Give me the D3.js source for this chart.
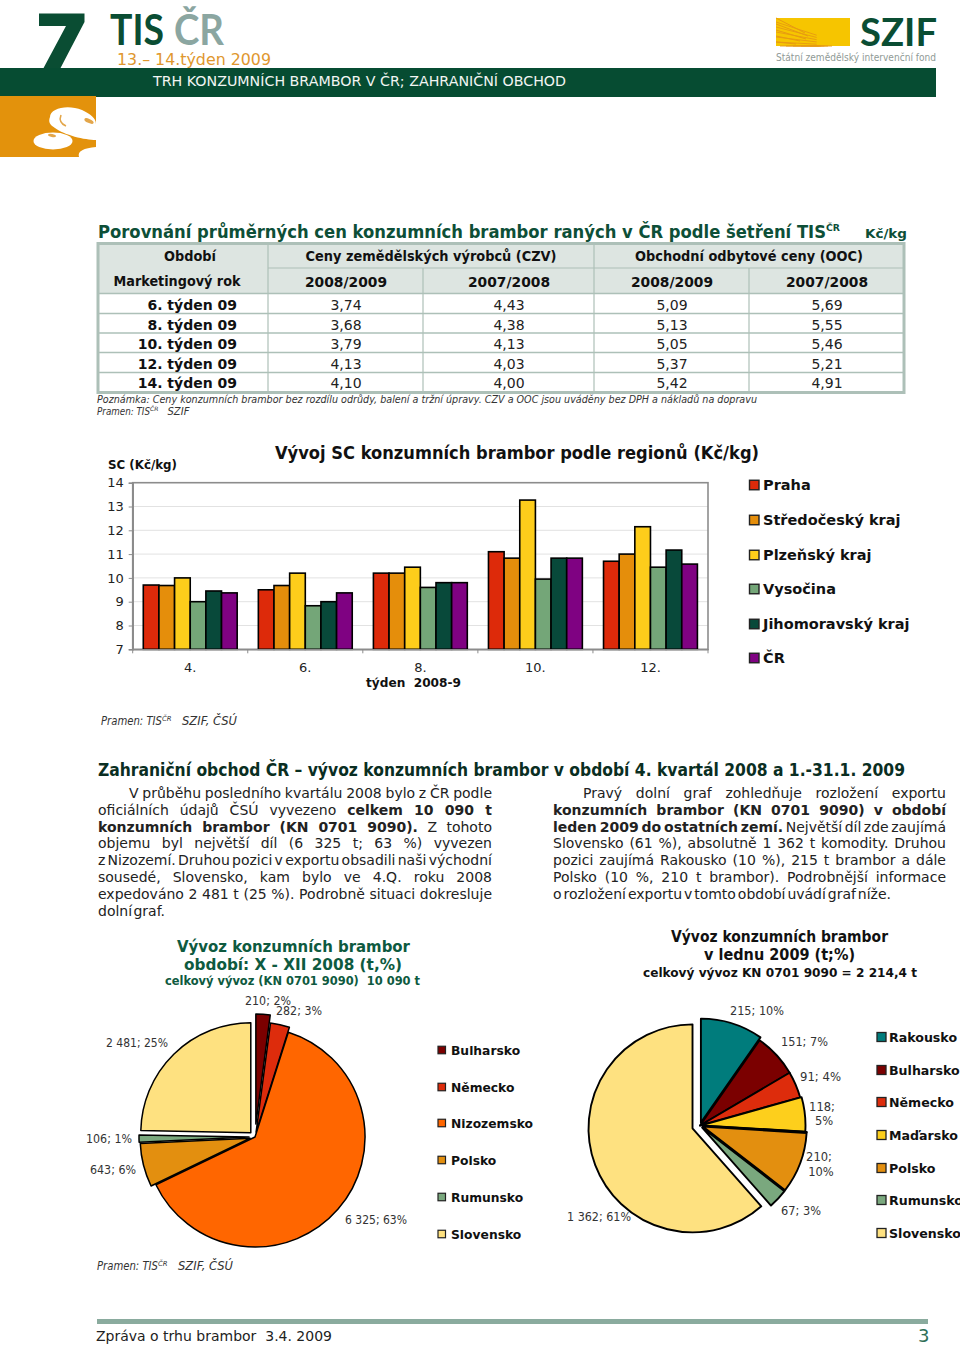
<!DOCTYPE html>
<html><head><meta charset="utf-8">
<script src="https://cdn.jsdelivr.net/npm/d3@7"></script>
<style>html,body{margin:0;padding:0;background:#fff}svg{display:block}text{font-family:"DejaVu Sans",Verdana,sans-serif}</style>
</head><body><svg id="c" width="960" height="1345"></svg>
<script>
// ---- data ----
const tablePeriods = ["6. týden 09","8. týden 09","10. týden 09","12. týden 09","14. týden 09"];
const czv0809 = ["3,74","3,68","3,79","4,13","4,10"];
const czv0708 = ["4,43","4,38","4,13","4,03","4,00"];
const ooc0809 = ["5,09","5,13","5,05","5,37","5,42"];
const ooc0708 = ["5,69","5,55","5,46","5,21","4,91"];

const weeks = ["4.","6.","8.","10.","12."];
const regions = ["Praha","Středočeský kraj","Plzeňský kraj","Vysočina","Jihomoravský kraj","ČR"];
const praha = [9.7,9.5,10.2,11.1,10.7];
const stredocesky = [9.68,9.68,10.2,10.83,11.0];
const plzensky = [10.0,10.2,10.45,13.27,12.15];
const vysocina = [9.0,8.83,9.6,9.95,10.45];
const jihomoravsky = [9.45,9.0,9.8,10.83,11.17];
const cr = [9.37,9.37,9.8,10.83,10.58];
const regionColors = ["#dd2a0a","#e58e0b","#fdcd1b","#74a678","#08493a","#7f0282"];

const pie1Names = ["Bulharsko","Německo","Nizozemsko","Polsko","Rumunsko","Slovensko"];
const pie1Values = [210,282,6325,643,106,2481];
const pie1Labels = ["210; 2%","282; 3%","6 325; 63%","643; 6%","106; 1%","2 481; 25%"];
const pie1Colors = ["#7b0000","#dd2c0c","#ff6600","#e38f0f","#7aa87e","#fee180"];

const pie2Names = ["Rakousko","Bulharsko","Německo","Maďarsko","","Polsko","Rumunsko","Slovensko"];
const pie2Values = [215,151,91,118,0.4,210,67,1362];
const pie2Colors = ["#007c7c","#7b0000","#dd2c0c","#fdcf1c","#999999","#e38f0f","#7aa87e","#fee180"];

// ---- layout ----
const pie1Explode = [13,5,0,5,6,6];
const pie2Explode = [3,0,0,1.5,3,3,3,8];
const GREEN="#0a4d33", TXT="#222";
const svg=d3.select("#c");
function T(x,y,s,o={}){
  const t=svg.append("text").attr("x",x).attr("y",y).text(s)
    .attr("font-size",o.size||12).attr("fill",o.fill||TXT)
    .attr("font-weight",o.bold?"bold":"normal")
    .attr("font-style",o.it?"italic":"normal")
    .attr("text-anchor",o.anchor||"start");
  if(o.font)t.style("font-family",o.font);
  if(o.len)t.attr("textLength",o.len).attr("lengthAdjust","spacingAndGlyphs");
  return t;
}
function R(x,y,w,h,f){return svg.append("rect").attr("x",x).attr("y",y).attr("width",w).attr("height",h).attr("fill",f);}
function L(x1,y1,x2,y2,c,w){return svg.append("line").attr("x1",x1).attr("y1",y1).attr("x2",x2).attr("y2",y2).attr("stroke",c).attr("stroke-width",w);}

// ---- header ----
svg.append("path").attr("d","M39,13.5H84.5V22L60,69H43L66,26H39Z").attr("fill",GREEN);
T(110,45,"TIS",{size:42,bold:true,fill:GREEN,font:"Lato",len:54});
T(174,45,"ČR",{size:42,bold:true,fill:"#8ba6a1",font:"Lato",len:50});
T(117,64.5,"13.– 14.týden 2009",{size:16,fill:"#e0972e",len:154});
R(0,68,936,29,"#064c32");
T(153,85.5,"TRH KONZUMNÍCH BRAMBOR V ČR; ZAHRANIČNÍ OBCHOD",{size:14.5,fill:"#f2f5f3",len:413});
R(0,96,96,61,"#e3920c");
svg.append("path").attr("d","M50,117C50,108 68,104 82,110C90,114 96,118 96,124V140C85,140 64,135 55,128C50,125 48,122 50,117Z").attr("fill","#fff");
svg.append("ellipse").attr("cx",53).attr("cy",141).attr("rx",19.5).attr("ry",8.5).attr("fill","#fff");
svg.append("path").attr("d","M79,157C77,151 84,148 96,147V157Z").attr("fill","#fff");
svg.append("path").attr("d","M61,115C59,120 61,124 66,126").attr("fill","none").attr("stroke","#e3a64a").attr("stroke-width",1.6);
svg.append("ellipse").attr("cx",89).attr("cy",121).attr("rx",5).attr("ry",2).attr("transform","rotate(25 89 121)").attr("fill","#e3a64a");
svg.append("ellipse").attr("cx",52).attr("cy",135.5).attr("rx",4).attr("ry",1.5).attr("transform","rotate(10 52 135.5)").attr("fill","#e3a64a");
// SZIF logo
R(776,18,74,28,"#f6c500");
d3.range(0,9).forEach(i=>{
  svg.append("line").attr("x1",776+i*3.2).attr("y1",46).attr("x2",776).attr("y2",18+i*0).attr("stroke","none");
});
const rayEnds=[[776,22],[776,27],[776,32],[776,37],[776,42],[780,46],[786,46],[793,46],[801,46],[810,46]];
rayEnds.forEach(e=>L(e[0],e[1],850,46,"#e79a12",0.9).attr("x2",776+ (e[0]-776)+ (850-e[0])*0.55).attr("y2",e[1]+(46-e[1])*0.55+ (e[1]<46? (18-e[1])*0:0)));
const ray2=[[776,18,805,33],[776,24,808,36],[776,30,806,39],[776,36,800,41],[776,42,796,44]];
ray2.forEach(r=>L(r[0],r[1],r[2],r[3],"#e79a12",1));
T(860,46,"SZIF",{size:39,bold:true,fill:GREEN,font:"Lato",len:77});
T(776,61,"Státní zemědělský intervenční fond",{size:10,fill:"#8f9a96",len:160});

// ---- table ----
T(98,238,"Porovnání průměrných cen konzumních brambor raných v ČR podle šetření TIS",{size:17,bold:true,fill:"#0d4f37",len:728});
T(826,231,"ČR",{size:9,bold:true,fill:"#0d4f37",len:14});
T(865,238,"Kč/kg",{size:12,bold:true,fill:"#0d4f37",len:42});
R(98,244,806,50,"#dde5e1");
const tc="#adc0b8";
[293.5,313.5,333,352.5,372.5].forEach(y=>L(98,y,904,y,tc,1.6));
L(268,268,904,268,tc,1.2);
L(268,244,268,392,tc,1.2);L(594,244,594,392,tc,1.2);
L(423,268,423,392,tc,1.2);L(749,268,749,392,tc,1.2);
svg.append("rect").attr("x",98).attr("y",243.5).attr("width",806).attr("height",149).attr("fill","none").attr("stroke",tc).attr("stroke-width",3);
const hb={size:13.5,bold:true,fill:"#111"};
T(190,261,"Období",{...hb,anchor:"middle",len:52});
T(431,261,"Ceny zemědělských výrobců (CZV)",{...hb,anchor:"middle",len:251});
T(749,261,"Obchodní odbytové ceny (OOC)",{...hb,anchor:"middle",len:228});
T(177,286,"Marketingový rok",{...hb,anchor:"middle",len:127});
[[346,"2008/2009"],[509,"2007/2008"],[672,"2008/2009"],[827,"2007/2008"]].forEach(d=>T(d[0],287,d[1],{...hb,anchor:"middle",len:82}));
const rowY=[310,330,349,369,388];
tablePeriods.forEach((p,i)=>{
  T(237,rowY[i],p,{size:14,bold:true,fill:"#111",anchor:"end"});
  T(346,rowY[i],czv0809[i],{size:14,anchor:"middle"});
  T(509,rowY[i],czv0708[i],{size:14,anchor:"middle"});
  T(672,rowY[i],ooc0809[i],{size:14,anchor:"middle"});
  T(827,rowY[i],ooc0708[i],{size:14,anchor:"middle"});
});
T(97,403,"Poznámka: Ceny konzumních brambor bez rozdílu odrůdy, balení a tržní úpravy. CZV a OOC jsou uváděny bez DPH a nákladů na dopravu",{size:10,it:true,len:660,fill:"#333"});
function pramen(x,y,after,size){
  T(x,y,"Pramen: TIS",{size,it:true,fill:"#333",len:size*5.3});
  T(x+size*5.3,y-4,"ČR",{size:size*0.6,it:true,fill:"#333"});
  T(x+size*5.3+size*1.75,y,after,{size,it:true,fill:"#333"});
}
pramen(97,415,"SZIF",10);

// ---- bar chart ----
T(275,459,"Vývoj SC konzumních brambor podle regionů (Kč/kg)",{size:17,bold:true,fill:"#111",len:484});
T(108,469,"SC (Kč/kg)",{size:11.5,bold:true,fill:"#111",len:69});
const pL=132.7,pR=708,pT=482.7,pB=649.3;
const y=d3.scaleLinear().domain([7,14]).range([pB,pT]);
const x0=d3.scaleBand().domain(weeks).range([pL,pR]);
const x1=d3.scaleBand().domain(regions).range([x0.bandwidth()*0.092,x0.bandwidth()*0.908]);
const series=[praha,stredocesky,plzensky,vysocina,jihomoravsky,cr];
const chart=svg.append("g");
chart.selectAll("line.g").data(d3.range(8,14)).join("line").attr("class","g")
  .attr("x1",pL).attr("x2",pR).attr("y1",d=>y(d)).attr("y2",d=>y(d)).attr("stroke","#e2e2e2").attr("stroke-width",1);
chart.append("rect").attr("x",pL).attr("y",pT).attr("width",pR-pL).attr("height",pB-pT).attr("fill","none").attr("stroke","#8c8c8c").attr("stroke-width",1.6);
regions.forEach((r,si)=>{
  chart.append("g").selectAll("rect").data(series[si]).join("rect")
   .attr("x",(d,i)=>x0(weeks[i])+x1(r)).attr("width",x1.bandwidth())
   .attr("y",d=>y(d)).attr("height",d=>pB-y(d))
   .attr("fill",regionColors[si]).attr("stroke","#000").attr("stroke-width",1.6);
});
const ya=chart.append("g").attr("transform",`translate(${pL},0)`).call(d3.axisLeft(y).tickValues(d3.range(7,15)).tickFormat(d3.format("d")).tickSize(4).tickPadding(5));
ya.select(".domain").attr("stroke","#8c8c8c").attr("stroke-width",1.6);
ya.selectAll("line").attr("stroke","#8c8c8c");
ya.selectAll("text").attr("font-size",13).attr("fill",TXT).style("font-family",'"DejaVu Sans"');
const xa=chart.append("g").attr("transform",`translate(0,${pB})`).call(d3.axisBottom(x0).tickSize(0).tickPadding(13));
xa.select(".domain").attr("stroke","#8c8c8c").attr("stroke-width",1.6);
xa.selectAll("text").attr("font-size",13).attr("fill",TXT).style("font-family",'"DejaVu Sans"');
chart.selectAll("line.xt").data(d3.range(6)).join("line").attr("class","xt")
  .attr("x1",i=>pL+i*x0.step()).attr("x2",i=>pL+i*x0.step()).attr("y1",pB).attr("y2",pB+4).attr("stroke","#8c8c8c");
T(366,687,"týden  2008-9",{size:13,bold:true,fill:"#111",len:95}).attr("xml:space","preserve");
function legend(names,colors,xs,ys,sz,tx,fs,sw){
  names.forEach((n,i)=>{
    svg.append("rect").attr("x",xs+0.5).attr("y",ys[i]-sz/2).attr("width",sz).attr("height",sz).attr("fill",colors[i]).attr("stroke","#222").attr("stroke-width",sw);
    T(tx,ys[i]+fs*0.37,n,{size:fs,bold:true,fill:"#111"});
  });
}
legend(regions,regionColors,749,[485,520,555,589,624,658],9.5,763,14.5,1.4);
pramen(101,725,"SZIF, ČSÚ",11.5);

// ---- text ----
T(98,776,"Zahraniční obchod ČR – vývoz konzumních brambor v období 4. kvartál 2008 a 1.-31.1. 2009",{size:17.5,bold:true,fill:"#0a2e22",len:807});
function para(x0,x1,indent,lines,ys,lastJust){
  lines.forEach((segs,i)=>{
    const sx=i==0?x0+indent:x0;
    const t=svg.append("text").attr("x",sx).attr("y",ys[i]).attr("font-size",14).attr("fill",TXT);
    segs.forEach(s=>t.append("tspan").attr("font-weight",s[1]?"bold":"normal").text(s[0]));
    const full=segs.map(s=>s[0]).join("");
    const n=(full.match(/[ \u00a0]/g)||[]).length;
    const w=t.node().getComputedTextLength();
    const target=lastJust[i]?lastJust[i]:(x1-sx);
    if(n) t.attr("word-spacing",(target-w)/n);
  });
}
const ys=[798,815,832,848,865,882,899,916];
para(98,492,31,[
 [["V průběhu posledního kvartálu 2008 bylo z ČR podle",0]],
 [["oficiálních údajů ČSÚ vyvezeno ",0],["celkem 10 090 t",1]],
 [["konzumních brambor (KN 0701 9090).",1],[" Z tohoto",0]],
 [["objemu byl největší díl (6 325 t; 63 %) vyvezen",0]],
 [["z Nizozemí. Druhou pozici v exportu obsadili naši východní",0]],
 [["sousedé, Slovensko, kam bylo ve 4.Q. roku 2008",0]],
 [["expedováno 2 481 t (25 %). Podrobně situaci dokresluje",0]],
 [["dolní graf.",0]]
],ys,{7:67});
para(553,946,30,[
 [["Pravý dolní graf zohledňuje rozložení exportu",0]],
 [["konzumních brambor (KN 0701 9090) v období",1]],
 [["leden 2009 do ostatních zemí.",1],[" Největší díl zde zaujímá",0]],
 [["Slovensko (61 %), absolutně 1 362 t komodity. Druhou",0]],
 [["pozici zaujímá Rakousko (10 %), 215 t brambor a dále",0]],
 [["Polsko (10 %, 210 t brambor). Podrobnější informace",0]],
 [["o rozložení exportu v tomto období uvádí graf níže.",0]]
],ys,{6:338});

// ---- pies ----
function pie(cx,cy,r,values,colors,expl,sw){
  const arcs=d3.pie().sort(null).value(d=>d)(values);
  const arc=d3.arc().innerRadius(0).outerRadius(r);
  const g=svg.append("g").attr("transform",`translate(${cx},${cy})`);
  g.selectAll("path").data(arcs).join("path").attr("d",arc)
   .attr("transform",(d,i)=>{const m=(d.startAngle+d.endAngle)/2;return `translate(${Math.sin(m)*expl[i]},${-Math.cos(m)*expl[i]})`;})
   .attr("fill",(d,i)=>colors[i]).attr("stroke","#000").attr("stroke-width",sw).attr("stroke-linejoin","round");
}
const G2="#0e5a40";
T(293.5,952,"Vývoz konzumních brambor",{size:15.5,bold:true,fill:G2,anchor:"middle",len:233});
T(293,970,"období: X - XII 2008 (t,%)",{size:15.5,bold:true,fill:G2,anchor:"middle",len:218});
T(292.5,985,"celkový vývoz (KN 0701 9090)  10 090 t",{size:12,bold:true,fill:G2,anchor:"middle",len:255}).attr("xml:space","preserve");
pie(255,1137,110,pie1Values,pie1Colors,pie1Explode,1.5);
const l1={size:11.5,fill:"#333"};
T(245,1005,pie1Labels[0],{...l1,len:46});
T(276,1015,pie1Labels[1],{...l1,len:46});
T(345,1224,pie1Labels[2],{...l1,len:62});
T(90,1174,pie1Labels[3],{...l1,len:46});
T(86,1143,pie1Labels[4],{...l1,len:46});
T(106,1047,pie1Labels[5],{...l1,len:62});
legend(pie1Names,pie1Colors,437.5,[1050,1087,1123,1160,1197,1234],7.5,451,12.3,1.2);
pramen(97,1270,"SZIF, ČSÚ",11.5);

T(779.5,942,"Vývoz konzumních brambor",{size:15,bold:true,fill:"#111",anchor:"middle",len:217});
T(779.5,960,"v lednu 2009 (t;%)",{size:15,bold:true,fill:"#111",anchor:"middle",len:151});
T(780,977,"celkový vývoz KN 0701 9090 = 2 214,4 t",{size:12,bold:true,fill:"#111",anchor:"middle",len:274});
pie(700,1125.5,104,pie2Values,pie2Colors,pie2Explode,1.9);
T(730,1015,"215; 10%",{...l1,len:54});
T(781,1046,"151; 7%",{...l1,len:47});
T(800,1081,"91; 4%",{...l1,len:41});
T(822,1111,"118;",{...l1,anchor:"middle"});
T(824,1125,"5%",{...l1,anchor:"middle"});
T(819,1161,"210;",{...l1,anchor:"middle"});
T(821,1176,"10%",{...l1,anchor:"middle"});
T(781,1215,"67; 3%",{...l1,len:40});
T(567,1221,"1 362; 61%",{...l1,len:64});
const lg2=pie2Names.map((n,i)=>i).filter(i=>pie2Names[i]);
legend(lg2.map(i=>pie2Names[i]),lg2.map(i=>pie2Colors[i]),876.5,[1037,1070,1102,1135,1168,1200,1233],9,889,12.6,1.3);

// ---- footer ----
R(97,1319,831,5,"#8aab9e");
T(96,1341,"Zpráva o trhu brambor  3.4. 2009",{size:14.5,fill:"#222",len:236}).attr("xml:space","preserve");
T(918,1342,"3",{size:18,fill:"#2f6f57"});
</script></body></html>
